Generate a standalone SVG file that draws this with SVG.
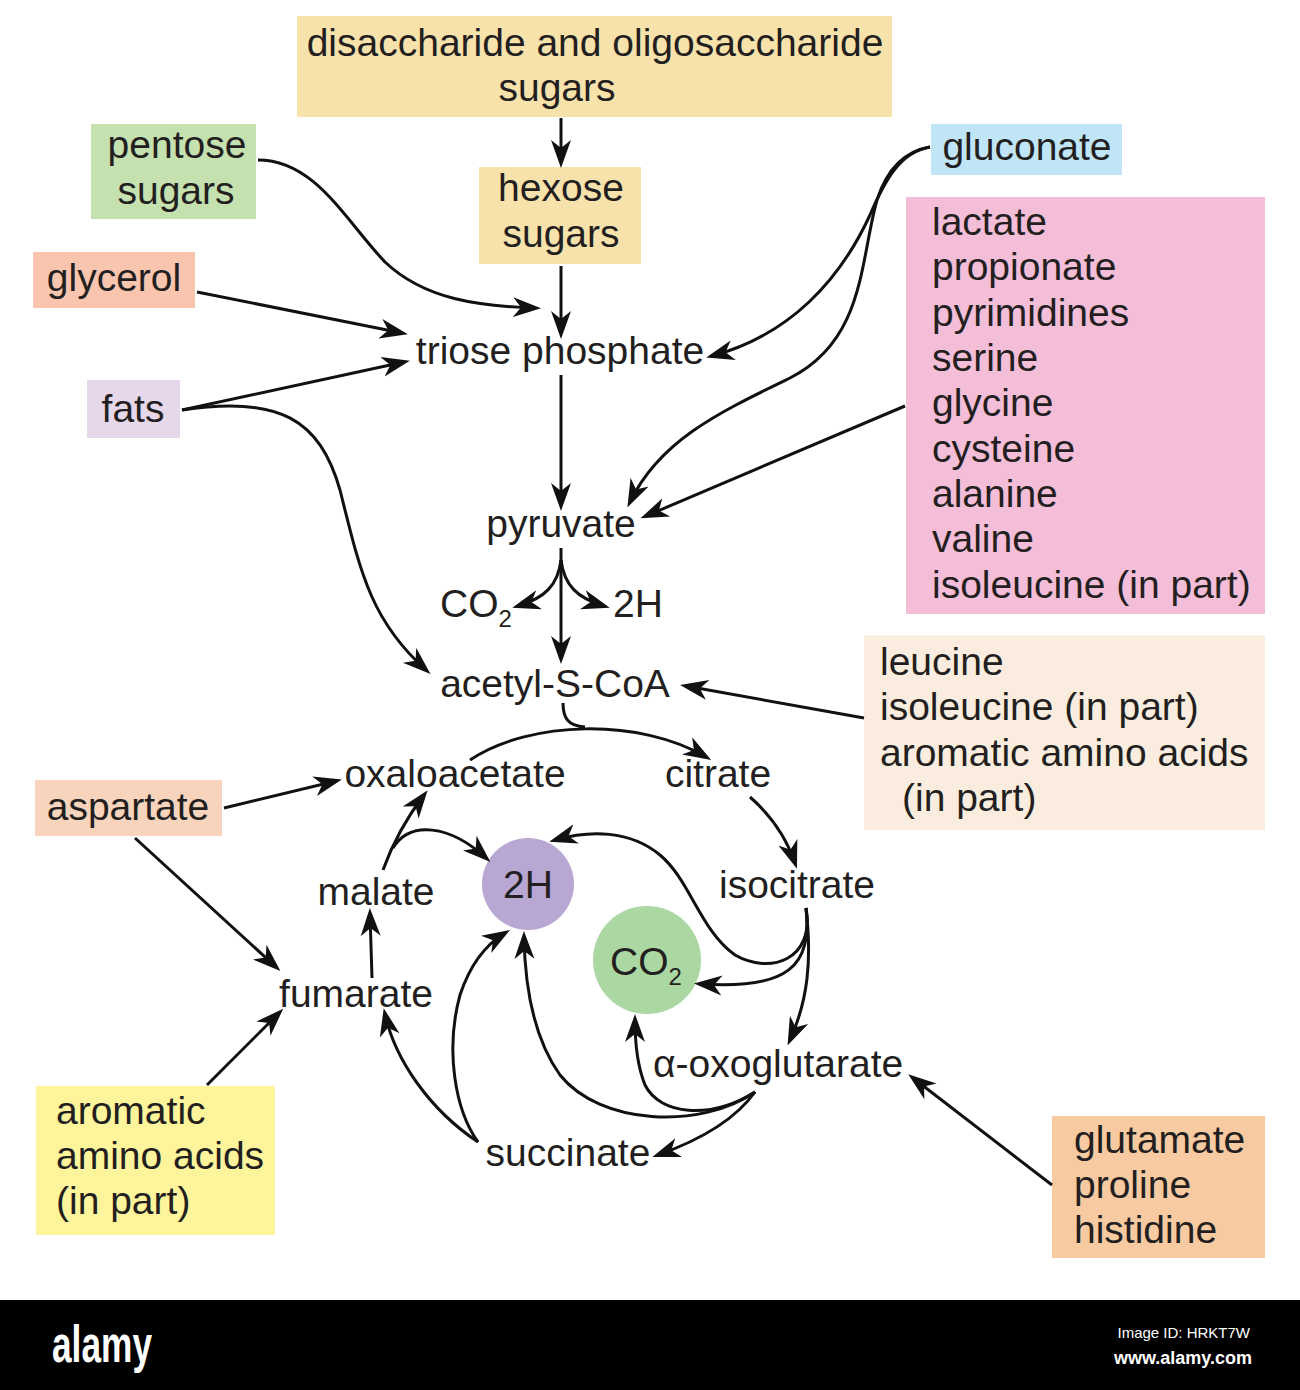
<svg xmlns="http://www.w3.org/2000/svg" width="1300" height="1390" viewBox="0 0 1300 1390">
<style>
text{font-family:"Liberation Sans",Arial,Helvetica,sans-serif;font-size:39px;fill:#231f20}
.m{text-anchor:middle}
.sub{font-size:24px}
.c path{fill:none;stroke:#111;stroke-width:3;marker-end:url(#ah)}
</style>
<defs>
<marker id="ah" markerUnits="userSpaceOnUse" viewBox="0 0 28 22" refX="22" refY="11" markerWidth="28" markerHeight="22" orient="auto">
<path d="M0,1 L28,11 L0,21 L8,11 Z" fill="#111"/>
</marker>
</defs>
<rect width="1300" height="1390" fill="#fff"/>

<g id="disaccharide"><rect x="297" y="16" width="595" height="101" fill="#F8E2AC"/>
<text x="595" y="56" class="m">disaccharide and oligosaccharide</text><text x="557" y="101" class="m">sugars</text></g>
<g id="hexose"><rect x="479" y="167" width="162" height="97" fill="#F8E2AC"/>
<text x="561" y="201" class="m">hexose</text><text x="561" y="247" class="m">sugars</text></g>
<g id="pentose"><rect x="91" y="124" width="165" height="95" fill="#C6E1B0"/>
<text x="177" y="158" class="m">pentose</text><text x="176" y="204" class="m">sugars</text></g>
<g id="glycerol"><rect x="33" y="252" width="162" height="56" fill="#F9C5AF"/>
<text x="114" y="291" class="m">glycerol</text></g>
<g id="fats"><rect x="87" y="380" width="93" height="58" fill="#E7D7EB"/>
<text x="133" y="422" class="m">fats</text></g>
<g id="gluconate"><rect x="931" y="124" width="191" height="51" fill="#C0E5F6"/>
<text x="1027" y="160" class="m">gluconate</text></g>
<g id="pinklist"><rect x="906" y="197" width="359" height="417" fill="#F4BDD8"/>
<text x="932" y="235">lactate</text><text x="932" y="280">propionate</text><text x="932" y="326">pyrimidines</text>
<text x="932" y="371">serine</text><text x="932" y="416">glycine</text><text x="932" y="462">cysteine</text>
<text x="932" y="507">alanine</text><text x="932" y="552">valine</text><text x="932" y="598">isoleucine (in part)</text></g>
<g id="triose"><text x="560" y="364" class="m">triose phosphate</text></g>
<g id="pyruvate"><text x="561" y="537" class="m">pyruvate</text></g>
<g id="co2a"><text x="440" y="617">CO<tspan class="sub" dy="10">2</tspan></text></g>
<g id="h2a"><text x="613" y="617">2H</text></g>
<g id="acetyl"><text x="555" y="697" class="m">acetyl-S-CoA</text></g>
<g id="leucine"><rect x="864" y="635" width="401" height="195" fill="#FAEDDF"/>
<text x="880" y="675">leucine</text><text x="880" y="720">isoleucine (in part)</text>
<text x="880" y="766">aromatic amino acids</text><text x="902" y="811">(in part)</text></g>
<g id="oxaloacetate"><text x="455" y="787" class="m">oxaloacetate</text></g>
<g id="citrate"><text x="718" y="787" class="m">citrate</text></g>
<g id="aspartate"><rect x="35" y="780" width="187" height="56" fill="#F9D4BD"/>
<text x="128" y="820" class="m">aspartate</text></g>
<g id="malate"><text x="376" y="905" class="m">malate</text></g>
<g id="h2b"><circle cx="528" cy="884" r="46" fill="#B8A6D3"/><text x="528" y="898" class="m">2H</text></g>
<g id="isocitrate"><text x="797" y="898" class="m">isocitrate</text></g>
<g id="co2b"><circle cx="647" cy="960" r="54" fill="#AAD7A2"/><text x="610" y="975">CO<tspan class="sub" dy="10">2</tspan></text></g>
<g id="fumarate"><text x="356" y="1007" class="m">fumarate</text></g>
<g id="oxoglutarate"><text x="653" y="1077">α-oxoglutarate</text></g>
<g id="succinate"><text x="568" y="1166" class="m">succinate</text></g>
<g id="aromatic"><rect x="36" y="1086" width="239" height="149" fill="#FDF49B"/>
<text x="56" y="1124">aromatic</text><text x="56" y="1169">amino acids</text><text x="56" y="1214">(in part)</text></g>
<g id="glutamate"><rect x="1052" y="1116" width="213" height="142" fill="#F7CAA1"/>
<text x="1074" y="1153">glutamate</text><text x="1074" y="1198">proline</text><text x="1074" y="1243">histidine</text></g>

<g id="connectors" class="c">
<path d="M561,118 L561,162"/>
<path d="M561,266 L561,333"/>
<path d="M258,160 C315,160 345,220 385,262 C425,300 480,306 535,308"/>
<path d="M197,292 L402,333"/>
<path d="M182,410 L404,362"/>
<path d="M182,410 C280,395 320,420 340,490 C360,570 370,620 426,670"/>
<path d="M930,147 C900,152 885,180 870,215 C840,280 790,335 712,356"/>
<path d="M930,147 C900,152 885,175 877,200 C860,260 865,340 790,378 C720,412 660,440 630,502"/>
<path d="M905,406 L646,516"/>
<path d="M561,375 L561,505"/>
<path d="M561,548 L561,658"/>
<path d="M561,560 C558,585 545,598 518,606"/>
<path d="M561,560 C564,585 577,598 604,606"/>
<path d="M864,718 L686,686"/>
<path d="M563,703 C563,718 568,726 585,727" style="marker-end:none"/>
<path d="M470,760 C530,720 640,718 706,757"/>
<path d="M750,797 Q782,825 795,863"/>
<path d="M806,908 C815,960 770,975 735,955 C700,930 690,880 660,855 C630,830 590,830 555,840"/>
<path d="M806,908 C812,965 790,990 700,984"/>
<path d="M806,908 C812,960 808,1000 790,1040"/>
<path d="M755,1092 C710,1120 660,1115 645,1085 C637,1065 635,1045 635,1020"/>
<path d="M755,1092 C700,1130 600,1125 560,1075 C535,1040 525,990 524,937"/>
<path d="M755,1092 C735,1120 700,1140 658,1155"/>
<path d="M478,1142 C430,1110 395,1060 385,1014"/>
<path d="M478,1142 C455,1110 445,1050 460,995 C470,965 485,945 505,933"/>
<path d="M372,978 L370,914"/>
<path d="M383,870 C392,845 405,820 424,795"/>
<path d="M393,848 C410,820 450,825 486,858"/>
<path d="M224,808 L336,781"/>
<path d="M135,838 L276,967"/>
<path d="M207,1085 L279,1013"/>
<path d="M1052,1185 L913,1078"/>
</g>

<g id="footer">
<rect x="0" y="1300" width="1300" height="90" fill="#000"/>
<text x="52" y="1362" style="font-size:52px;font-weight:bold;fill:#fff" textLength="100" lengthAdjust="spacingAndGlyphs">alamy</text>
<text x="1250" y="1338" style="font-size:15px;fill:#fff;text-anchor:end">Image ID: HRKT7W</text>
<text x="1252" y="1364" style="font-size:18px;font-weight:bold;fill:#fff;text-anchor:end">www.alamy.com</text>
</g>
</svg>
